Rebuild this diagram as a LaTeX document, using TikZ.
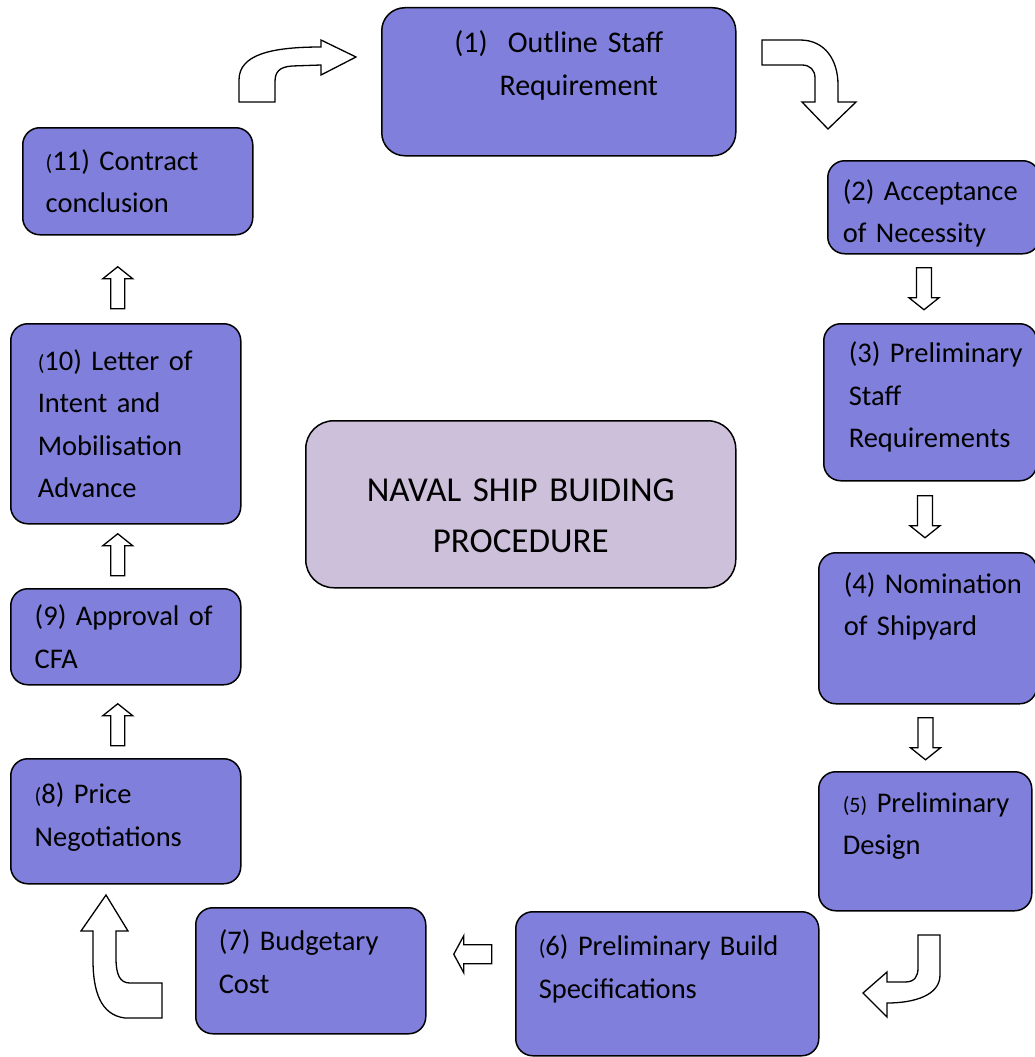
\documentclass[tikz,border=0pt]{standalone}
\usepackage{fontspec}
\setmainfont{Carlito}
\usetikzlibrary{calc}
\definecolor{stageblue}{RGB}{128,128,220}
\definecolor{titlelilac}{RGB}{204,192,218}
\hyphenpenalty=10000
\exhyphenpenalty=10000
\newcommand\smp[1]{{\fontsize{22}{22}\selectfont #1}}
\tikzset{
  stage/.style={draw=black, line width=1.5pt, fill=stageblue, rounded corners=17pt,
    anchor=north west, inner xsep=0pt, inner ysep=0pt,
    font=\fontsize{28.5}{42.5}\selectfont},
  pad/.style={execute at begin node={\raggedright\leftskip=#1\relax}},
  title/.style={draw=black, line width=1.5pt, fill=titlelilac, rounded corners=28pt,
    anchor=north west, align=center, font=\fontsize{35}{51}\selectfont},
  lift/.style={execute at end node={\par\vspace*{#1}}},
  blk/.style={draw=black, line width=1.3pt, fill=white, line join=miter},
  % straight block arrows, drawn about their centre
  darr/.pic={\draw[blk] (-7.5,-21) -- (7.5,-21) -- (7.5,9) -- (15,9) -- (0,21) -- (-15,9) -- (-7.5,9) -- cycle;},
  uarr/.pic={\draw[blk] (-7,21) -- (7,21) -- (7,-9) -- (15,-9) -- (0,-21) -- (-15,-9) -- (-7,-9) -- cycle;},
  larr/.pic={\draw[blk] (19,-9.5) -- (-9,-9.5) -- (-9,-18.5) -- (-19,0) -- (-9,18.5) -- (-9,9.5) -- (19,9.5) -- cycle;},
}
\begin{document}
\begin{tikzpicture}[x=1pt, y=-1pt]
  \useasboundingbox (0,0) rectangle (1035,1057);
  % stages of the procedure
  \node[stage, rounded corners=23pt, align=center, font=\fontsize{30}{43}\selectfont, lift=32pt,
        minimum width=354, minimum height=148, text width=354] (s1) at (381,7)
        {(1)~~Outline Staff\\\hspace*{40pt}Requirement};
  \node[stage, pad=15pt, lift=-12pt, minimum height=93, text width=212] (s2) at (827,160)
        {(2) Acceptance\\of Necessity};
  \node[stage, pad=25pt, lift=10pt, minimum height=157, text width=213] (s3) at (823,323)
        {(3) Preliminary\\Staff\\Requirements};
  \node[stage, pad=25pt, lift=44pt, minimum height=151, text width=218] (s4) at (818,552)
        {(4) Nomination\\of Shipyard};
  \node[stage, pad=24pt, lift=30pt, minimum height=139, text width=213] (s5) at (818,771)
        {\smp{(5)} Preliminary\\Design};
  \node[stage, pad=23pt, lift=30pt, minimum height=144, text width=303] (s6) at (515,911)
        {\smp{(}6) Preliminary Build\\Specifications};
  \node[stage, pad=23pt, lift=18pt, minimum height=126, text width=230] (s7) at (195,907)
        {(7) Budgetary\\Cost};
  \node[stage, pad=24pt, lift=8pt, minimum height=125, text width=230] (s8) at (10,758)
        {\smp{(}8) Price\\Negotiations};
  \node[stage, pad=24pt, minimum height=96, text width=230] (s9) at (10,588)
        {(9) Approval of\\CFA};
  \node[stage, pad=27pt, minimum height=200, text width=230] (s10) at (10,323)
        {\smp{(}10) Letter of\\Intent and\\Mobilisation\\Advance};
  \node[stage, pad=23pt, minimum height=107, text width=230] (s11) at (22,127)
        {\smp{(}11) Contract\\conclusion};
  % title in the middle
  \node[title, lift=-24pt, minimum width=430, minimum height=167, text width=400] (proc) at (305,420)
        {NAVAL SHIP BUIDING\\PROCEDURE};

  % straight block arrows between the stages
  \pic at ($(s2.south)!.5!(s3.north) + (-8,0)$) {darr};
  \pic at ($(s3.south)!.5!(s4.north) + (-4,0)$) {darr};
  \pic at ($(s4.south)!.5!(s5.north) + (-1,1)$) {darr};
  \pic at ($(s7.east)!.5!(s6.west) + (2,-23)$) {larr};
  \pic at ($(s8.north)!.5!(s9.south) + (-8,3)$) {uarr};
  \pic at ($(s9.north)!.5!(s10.south) + (-8,-1.5)$) {uarr};
  \pic at ($(s10.north)!.5!(s11.south) + (-14,8.5)$) {uarr};

  % bent block arrows at the corners
  \draw[blk] (239,102) -- (239,80) .. controls (239,55) and (270,47) .. (321,47) -- (321,40)
    -- (356,57) -- (321,75) -- (321,65) -- (292,66) .. controls (279,67) and (275,72) .. (275,82)
    -- (275,102) -- cycle;
  \draw[blk] (762,40) -- (800,40) .. controls (825,40) and (838,60) .. (838,85) -- (838,102)
    -- (856,102) -- (828,129) -- (802,102) -- (815,102) -- (815,78) .. controls (815,70) and (810,65) .. (802,65)
    -- (762,65) -- cycle;
  \draw[blk] (918,935) -- (940,935) -- (940,975) .. controls (940,995) and (915,1003) .. (887,1003)
    -- (887,1017) -- (863,993) -- (887,972) -- (887,982) -- (905,982) .. controls (915,982) and (918,976) .. (918,968)
    -- cycle;
  \draw[blk] (106,895) -- (128,931) -- (116,931) -- (116,958) .. controls (116,975) and (120,983) .. (130,983)
    -- (162,983) -- (162,1018) -- (125,1018) .. controls (100,1015) and (93,990) .. (93,960)
    -- (93,931) -- (81,931) -- cycle;
\end{tikzpicture}
\end{document}
